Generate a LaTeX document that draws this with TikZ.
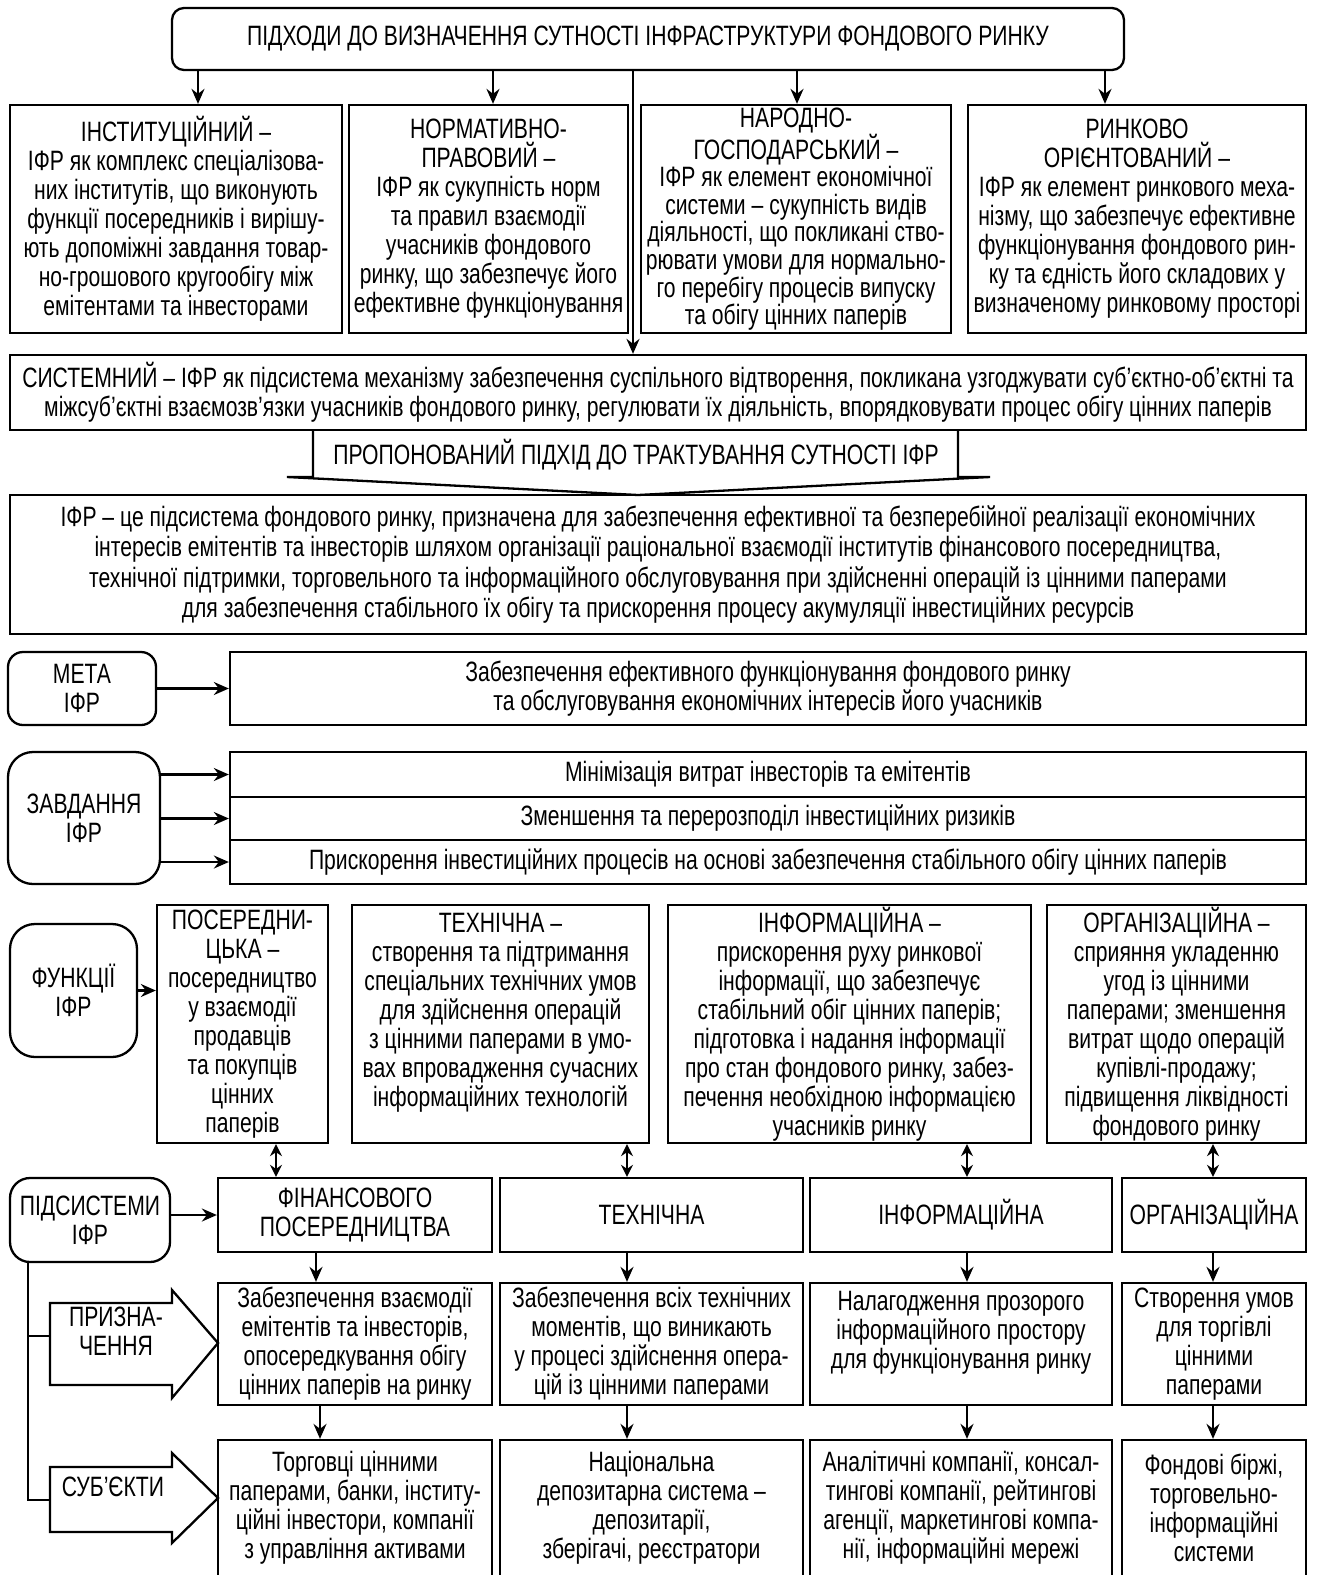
\documentclass[tikz,border=0pt]{standalone}
\usepackage{fontspec}
\setmainfont{Liberation Sans}[FakeStretch=0.755]
\usetikzlibrary{arrows.meta}

\begin{document}
\begin{tikzpicture}[x=1pt,y=-1pt,
    box/.style={draw,line width=2.3pt,inner sep=0pt,align=center,
      font=\fontsize{28}{29}\selectfont},
    rbox/.style={box,rounded corners=#1},
    rbox/.default=20pt,
    lbl/.style={inner sep=0pt,align=center,font=\fontsize{28}{29}\selectfont},
    ln/.style={line width=2.3pt},
    arr/.style={line width=2.3pt,-{Stealth[length=15pt,width=13pt,inset=5pt]}},
    darr/.style={line width=2.3pt,{Stealth[length=12pt,width=12pt,inset=4pt]}-{Stealth[length=12pt,width=12pt,inset=4pt]}}]
    % Page size
    \path[fill=white,use as bounding box] (0,0) rectangle (1322,1575);
    % Approaches
    \node[rbox=12pt,minimum width=952,minimum height=62] (top) at (648,39) {ПІДХОДИ ДО ВИЗНАЧЕННЯ СУТНОСТІ ІНФРАСТРУКТУРИ ФОНДОВОГО РИНКУ};
    \node[box,minimum width=332,minimum height=228] (inst) at (176,219) {ІНСТИТУЦІЙНИЙ –\\ІФР як комплекс спеціалізова-\\них інститутів, що виконують\\функції посередників і вирішу-\\ють допоміжні завдання товар-\\но-грошового кругообігу між\\емітентами та інвесторами};
    \node[box,minimum width=279,minimum height=228] (norm) at (488.5,219) {НОРМАТИВНО-\\ПРАВОВИЙ –\\ІФР як сукупність норм\\та правил взаємодії\\учасників фондового\\ринку, що забезпечує його\\ефективне функціонування};
    \node[box,minimum width=310,minimum height=228,font=\fontsize{28}{27.6}\selectfont] (narod) at (796,219) {НАРОДНО-\\ГОСПОДАРСЬКИЙ –\\ІФР як елемент економічної\\системи – сукупність видів\\діяльності, що покликані ство-\\рювати умови для нормально-\\го перебігу процесів випуску\\та обігу цінних паперів};
    \node[box,minimum width=338,minimum height=228] (rynk) at (1137,219) {РИНКОВО\\ОРІЄНТОВАНИЙ –\\ІФР як елемент ринкового меха-\\нізму, що забезпечує ефективне\\функціонування фондового рин-\\ку та єдність його складових у\\визначеному ринковому просторі};
    \node[box,minimum width=1296,minimum height=75] (sys) at (658,392.5) {СИСТЕМНИЙ – ІФР як підсистема механізму забезпечення суспільного відтворення, покликана узгоджувати суб’єктно-об’єктні та\\міжсуб’єктні взаємозв’язки учасників фондового ринку, регулювати їх діяльність, впорядковувати процес обігу цінних паперів};
    % Arrows from the heading
    \draw[arr] ([xshift=22pt]inst.north |- top.south) -- ([xshift=22pt]inst.north);
    \draw[arr] ([xshift=4.5pt]norm.north |- top.south) -- ([xshift=4.5pt]norm.north);
    \draw[arr] ([xshift=1pt]narod.north |- top.south) -- ([xshift=1pt]narod.north);
    \draw[arr] ([xshift=-32pt]rynk.north |- top.south) -- ([xshift=-32pt]rynk.north);
    \coordinate (xmid) at (633,0);
    \draw[arr] (top.south -| xmid) -- (sys.north -| xmid);
    % Proposed approach
    \draw[ln] (313,430) -- (313,477) -- (287,477) -- (638,495) -- (990,477) -- (958,477) -- (958,430);
    \node[lbl] (prop) at (636,455) {ПРОПОНОВАНИЙ ПІДХІД ДО ТРАКТУВАННЯ СУТНОСТІ ІФР};
    \node[box,minimum width=1296,minimum height=139,font=\fontsize{28}{30.3}\selectfont] (defn) at (658,564.5) {ІФР – це підсистема фондового ринку, призначена для забезпечення ефективної та безперебійної реалізації економічних\\інтересів емітентів та інвесторів шляхом організації раціональної взаємодії інститутів фінансового посередництва,\\технічної підтримки, торговельного та інформаційного обслуговування при здійсненні операцій із цінними паперами\\для забезпечення стабільного їх обігу та прискорення процесу акумуляції інвестиційних ресурсів};
    % Goal
    \node[rbox=15pt,minimum width=148,minimum height=73] (meta) at (82,688.5) {МЕТА\\ІФР};
    \node[box,minimum width=1076,minimum height=73] (metatxt) at (768,688.5) {Забезпечення ефективного функціонування фондового ринку\\та обслуговування економічних інтересів його учасників};
    \draw[arr] (meta) -- (metatxt);
    % Tasks
    \node[rbox=25pt,minimum width=152,minimum height=132] (zavd) at (84,818) {ЗАВДАННЯ\\ІФР};
    \node[box,minimum width=1076,minimum height=45] (task1) at (768,774.5) {Мінімізація витрат інвесторів та емітентів};
    \node[box,minimum width=1076,minimum height=43] (task2) at (768,818.5) {Зменшення та перерозподіл інвестиційних ризиків};
    \node[box,minimum width=1076,minimum height=44] (task3) at (768,862) {Прискорення інвестиційних процесів на основі забезпечення стабільного обігу цінних паперів};
    \draw[arr] (task1.west -| zavd.east) -- (task1.west);
    \draw[arr] (task2.west -| zavd.east) -- (task2.west);
    \draw[arr] (task3.west -| zavd.east) -- (task3.west);
    % Functions
    \node[rbox=25pt,minimum width=127,minimum height=133] (func) at (73.5,990.5) {ФУНКЦІЇ\\ІФР};
    \node[box,minimum width=171,minimum height=238] (fposr) at (242.5,1024) {ПОСЕРЕДНИ-\\ЦЬКА –\\посередництво\\у взаємодії\\продавців\\та покупців\\цінних\\паперів};
    \node[box,minimum width=297,minimum height=238] (ftekh) at (500.5,1024) {ТЕХНІЧНА –\\створення та підтримання\\спеціальних технічних умов\\для здійснення операцій\\з цінними паперами в умо-\\вах впровадження сучасних\\інформаційних технологій\\\phantom{Х}};
    \node[box,minimum width=363,minimum height=238] (finf) at (849.5,1024) {ІНФОРМАЦІЙНА –\\прискорення руху ринкової\\інформації, що забезпечує\\стабільний обіг цінних паперів;\\підготовка і надання інформації\\про стан фондового ринку, забез-\\печення необхідною інформацією\\учасників ринку};
    \node[box,minimum width=259,minimum height=238] (forg) at (1176.5,1024) {ОРГАНІЗАЦІЙНА –\\сприяння укладенню\\угод із цінними\\паперами; зменшення\\витрат щодо операцій\\купівлі-продажу;\\підвищення ліквідності\\фондового ринку};
    \draw[arr] (func) -- (func -| fposr.west);
    % Subsystems
    \node[rbox=20pt,minimum width=160,minimum height=84] (podsys) at (90,1220) {ПІДСИСТЕМИ\\ІФР};
    \node[box,minimum width=274,minimum height=74] (sfin) at (355,1215) {ФІНАНСОВОГО\\ПОСЕРЕДНИЦТВА};
    \node[box,minimum width=303,minimum height=74] (stekh) at (651.5,1215) {ТЕХНІЧНА};
    \node[box,minimum width=302,minimum height=74] (sinf) at (961,1215) {ІНФОРМАЦІЙНА};
    \node[box,minimum width=184,minimum height=74] (sorg) at (1214,1215) {ОРГАНІЗАЦІЙНА};
    \draw[arr] (podsys.east |- sfin) -- (sfin.west);
    \draw[darr] ([xshift=33.5pt]fposr.south) -- ([xshift=33.5pt]fposr.south |- sfin.north);
    \draw[darr] ([xshift=126.5pt]ftekh.south) -- ([xshift=126.5pt]ftekh.south |- stekh.north);
    \draw[darr] ([xshift=117.5pt]finf.south) -- ([xshift=117.5pt]finf.south |- sinf.north);
    \draw[darr] ([xshift=36.5pt]forg.south) -- ([xshift=36.5pt]forg.south |- sorg.north);
    % Purpose
    \node[box,minimum width=274,minimum height=122] (pfin) at (355,1344) {Забезпечення взаємодії\\емітентів та інвесторів,\\опосередкування обігу\\цінних паперів на ринку};
    \node[box,minimum width=303,minimum height=122] (ptekh) at (651.5,1344) {Забезпечення всіх технічних\\моментів, що виникають\\у процесі здійснення опера-\\цій із цінними паперами};
    \node[box,minimum width=302,minimum height=122] (pinf) at (961,1344) {Налагодження прозорого\\інформаційного простору\\для функціонування ринку\\\phantom{Х}};
    \node[box,minimum width=184,minimum height=122] (porg) at (1214,1344) {Створення умов\\для торгівлі\\цінними\\паперами};
    \draw[arr] ([xshift=-39pt]sfin.south) -- ([xshift=-39pt]sfin.south |- pfin.north);
    \draw[arr] ([xshift=-24.5pt]stekh.south) -- ([xshift=-24.5pt]stekh.south |- ptekh.north);
    \draw[arr] ([xshift=6pt]sinf.south) -- ([xshift=6pt]sinf.south |- pinf.north);
    \draw[arr] ([xshift=-1pt]sorg.south) -- ([xshift=-1pt]sorg.south |- porg.north);
    % Subjects
    \node[box,minimum width=274,minimum height=136] (ufin) at (355,1508) {Торговці цінними\\паперами, банки, інститу-\\ційні інвестори, компанії\\з управління активами};
    \node[box,minimum width=303,minimum height=136] (utekh) at (651.5,1508) {Національна\\депозитарна система –\\депозитарії,\\зберігачі, реєстратори};
    \node[box,minimum width=302,minimum height=136] (uinf) at (961,1508) {Аналітичні компанії, консал-\\тингові компанії, рейтингові\\агенції, маркетингові компа-\\нії, інформаційні мережі};
    \node[box,minimum width=184,minimum height=136] (uorg) at (1214,1508) {Фондові біржі,\\торговельно-\\інформаційні\\системи};
    \draw[arr] ([xshift=-35pt]pfin.south) -- ([xshift=-35pt]pfin.south |- ufin.north);
    \draw[arr] ([xshift=-24.5pt]ptekh.south) -- ([xshift=-24.5pt]ptekh.south |- utekh.north);
    \draw[arr] ([xshift=6pt]pinf.south) -- ([xshift=6pt]pinf.south |- uinf.north);
    \draw[arr] ([xshift=-1pt]porg.south) -- ([xshift=-1pt]porg.south |- uorg.north);
    % Block arrows and bracket
    \draw[ln] (50,1303) -- (172,1303) -- (172,1290) -- (218,1343) -- (172,1398) -- (172,1385) -- (50,1385) -- cycle;
    \node[lbl] (pryzn) at (116,1331) {ПРИЗНА-\\ЧЕННЯ};
    \draw[ln] (50,1467) -- (172,1467) -- (172,1453) -- (218,1498) -- (172,1543) -- (172,1532) -- (50,1532) -- cycle;
    \node[lbl] (subj) at (113,1487) {СУБ’ЄКТИ};
    \coordinate (pbody) at (50,1336);
    \coordinate (sbody) at (50,1500);
    \coordinate (brk) at (28,1500);
    \draw[ln] (podsys.south -| brk) -- (brk) -- (sbody);
    \draw[ln] (pbody -| brk) -- (pbody);
\end{tikzpicture}
\end{document}
